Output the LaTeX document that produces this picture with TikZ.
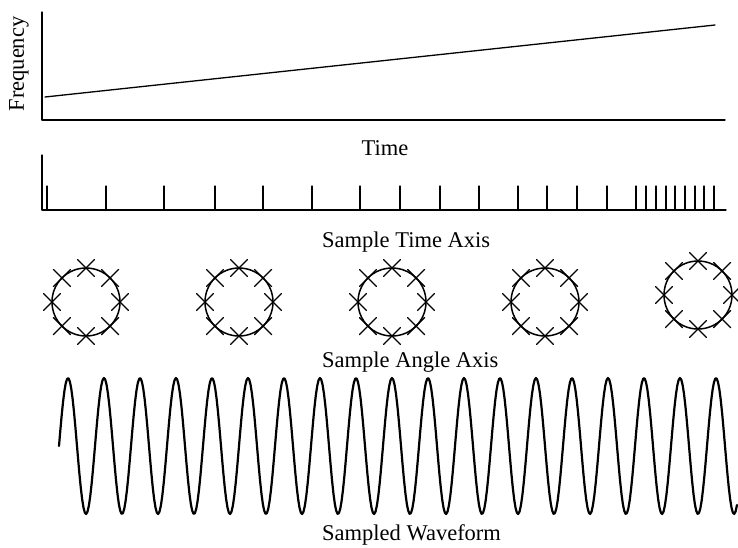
\documentclass[tikz,border=0pt]{standalone}
\usepackage{fontspec}
\setmainfont{Liberation Serif}
\begin{document}
\begin{tikzpicture}[x=1pt,y=-1pt,line cap=round,line join=round,
    axisline/.style={line width=1.3pt},
    lbl/.style={font=\fontsize{22.5}{26}\selectfont,inner sep=0pt},
    ring/.style={line width=1.5pt},
    cross/.style={line width=1.3pt},
    wave/.style={line width=2.2pt}]
  \useasboundingbox (0,0) rectangle (738,547);
  % frequency against time
  \coordinate (ftop) at (42,12);
  \coordinate (forig) at (42,120);
  \coordinate (fend) at (725,120);
  \draw[axisline] (ftop) -- (forig) -- (fend);
  \coordinate (chirp0) at (45,97);
  \coordinate (chirp1) at (715,25);
  \draw[axisline] (chirp0) -- (chirp1);
  \node[lbl,rotate=90] (freq) at (19,64) {Frequency};
  \node[lbl] (time) at (385,148) {Time};
  % sample times
  \coordinate (stop) at (42,155);
  \coordinate (sorig) at (42,210);
  \coordinate (send) at (726,210);
  \draw[axisline] (stop) -- (sorig) -- (send);
  \foreach \x in {47,106,164,215,263,312,360,400,440,479,518,547,577,607,636,646,656,666,675,685,695,704,714}
    \draw[axisline] (\x,186) -- (\x,210);
  \node[lbl,anchor=west] (stime) at (322,242) {Sample Time Axis};
  % sample angles
  \foreach \cx/\cy in {86/302,239/302,392/302,545/302,698/295} {
    \draw[ring] (\cx,\cy) circle (34pt);
    \foreach \k in {0,...,7}
      \draw[cross,shift={(\cx,\cy)}] ({34*cos(45*\k)-8.5},{34*sin(45*\k)-8.5}) -- ++(17,17)
        ({34*cos(45*\k)-8.5},{34*sin(45*\k)+8.5}) -- ++(17,-17);
  }
  \node[lbl,anchor=west] (sangle) at (322,362) {Sample Angle Axis};
  % waveform
  \draw[wave] plot[domain=59:737,samples=500] (\x,{446-68*sin(10*(\x-59))});
  \node[lbl,anchor=west] (swave) at (322,535) {Sampled Waveform};
\end{tikzpicture}
\end{document}
